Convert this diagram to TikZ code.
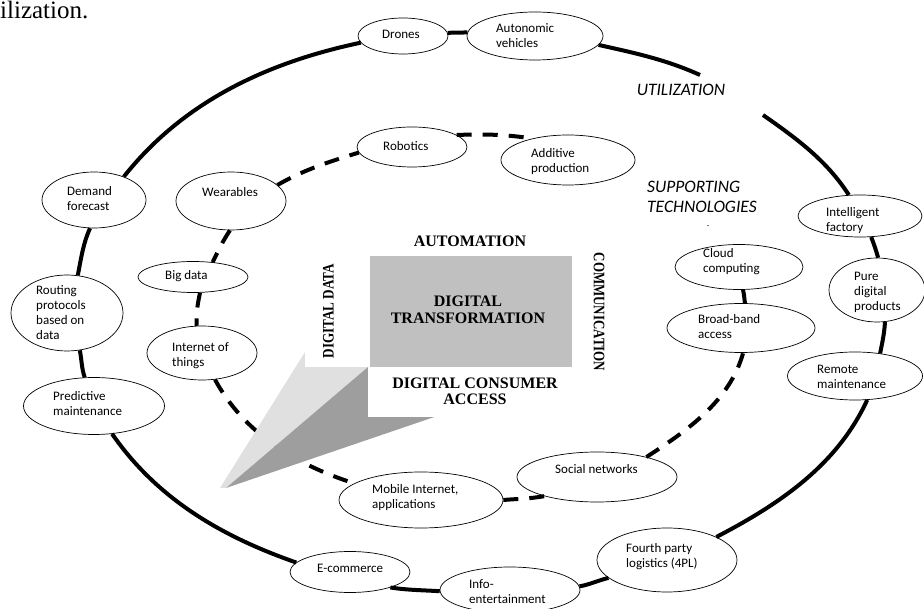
\documentclass[tikz,border=0pt]{standalone}
\usepackage{fontspec}
\setmainfont{Carlito}
\newfontfamily\tnr{Liberation Serif}
\usetikzlibrary{shapes.geometric}
\definecolor{boxgray}{HTML}{C0C0C0}
\definecolor{wedgelight}{HTML}{E0E0E0}
\definecolor{wedgedark}{HTML}{9E9E9E}
\begin{document}
\begin{tikzpicture}[x=1pt,y=1pt,
  ell/.style={draw, ellipse, line width=0.7pt, fill=white, inner sep=0pt},
  lbl/.style={anchor=west, align=left, inner sep=0pt, font=\fontsize{13}{15}\selectfont},
  ring/.style={line width=4pt, looseness=0.9},
  dring/.style={line width=4pt, dash pattern=on 15pt off 11pt, looseness=0.9},
  sb/.style={font=\tnr\bfseries\fontsize{16}{16.5}\selectfont, align=center, inner sep=0pt},
  it/.style={font=\itshape\fontsize{17.5}{20}\selectfont, inner sep=0pt}]
\useasboundingbox (0,0) rectangle (924,608);

% title fragment
\node[anchor=base west, inner sep=0pt, font=\tnr\fontsize{25}{28}\selectfont] (title) at (0,589.5) {ilization.};

% outer ellipses
\node[ell, minimum width=90pt, minimum height=36pt] (drones) at (403,572) {};
\node[ell, minimum width=136pt, minimum height=48pt] (auto) at (535,572) {};
\node[ell, minimum width=124pt, minimum height=42pt] (intel) at (860,392) {};
\node[ell, minimum width=96pt, minimum height=64pt] (pure) at (877,318) {};
\node[ell, minimum width=135pt, minimum height=48pt] (remote) at (855,232) {};
\node[ell, minimum width=140pt, minimum height=64pt] (fpl) at (667,48) {};
\node[ell, minimum width=140pt, minimum height=46pt] (info) at (510,18) {};
\node[ell, minimum width=120pt, minimum height=41pt] (ecom) at (350,36) {};
\node[ell, minimum width=141pt, minimum height=57pt] (pred) at (94,202) {};
\node[ell, minimum width=112pt, minimum height=76pt] (rout) at (67,295) {};
\node[ell, minimum width=104pt, minimum height=56pt] (demand) at (94,408) {};
% inner ellipses
\node[ell, minimum width=110pt, minimum height=40pt] (robot) at (412,461) {};
\node[ell, minimum width=134pt, minimum height=50pt] (addit) at (568,448) {};
\node[ell, minimum width=110pt, minimum height=58pt] (wear) at (231,407) {};
\node[ell, minimum width=110pt, minimum height=31pt] (bigd) at (193,331) {};
\node[ell, minimum width=110pt, minimum height=54pt] (iot) at (202,255) {};
\node[ell, minimum width=164pt, minimum height=56pt] (mobile) at (421,108) {};
\node[ell, minimum width=160pt, minimum height=50pt] (social) at (597,131) {};
\node[ell, minimum width=148pt, minimum height=49pt] (broad) at (741,280) {};
\node[ell, minimum width=128pt, minimum height=45pt] (cloud) at (739,341) {};

% labels
\node[lbl] (drones-t) at (382,574) {Drones};
\node[lbl] (auto-t) at (496,572) {Autonomic\\vehicles};
\node[lbl] (intel-t) at (826,387) {Intelligent\\factory};
\node[lbl] (pure-t) at (854,316) {Pure\\digital\\products};
\node[lbl] (remote-t) at (817,231) {Remote\\maintenance};
\node[lbl] (fpl-t) at (626,51) {Fourth party\\logistics (4PL)};
\node[lbl] (info-t) at (469,16) {Info-\\entertainment};
\node[lbl] (ecom-t) at (317,40) {E-commerce};
\node[lbl] (pred-t) at (53,204) {Predictive\\maintenance};
\node[lbl] (rout-t) at (36,295) {Routing\\protocols\\based on\\data};
\node[lbl] (demand-t) at (67,409) {Demand\\forecast};
\node[lbl] (robot-t) at (383,462) {Robotics};
\node[lbl] (addit-t) at (531,446) {Additive\\production};
\node[lbl] (wear-t) at (202,416) {Wearables};
\node[lbl] (bigd-t) at (165,332) {Big data};
\node[lbl] (iot-t) at (172,252) {Internet of\\things};
\node[lbl] (mobile-t) at (372,110) {Mobile Internet,\\applications};
\node[lbl] (social-t) at (555,139) {Social networks};
\node[lbl] (broad-t) at (698,281) {Broad-band\\access};
\node[lbl] (cloud-t) at (703,346) {Cloud\\computing};

% outer ring
\coordinate (u1) at (700,533);
\coordinate (u2) at (763,493);
\draw[ring] (demand.38) to[out=51.6,in=191.9] (drones.189);
\draw[ring] (drones.4) to[out=3,in=181] (auto.177);
\draw[ring] (auto.-8) to[out=-12.6,in=155.6] (u1);
\draw[ring] (u2) to[out=-35,in=122.7] (intel.118);
\draw[ring] (intel.-62) to[out=-68.4,in=106.1] (pure.88);
\draw[ring] (pure.-76) to[out=-92.6,in=78.8] (remote.42);
\draw[ring] (remote.-63) to[out=-114.7,in=27.5] (fpl.25);
\draw[ring] (fpl.197) to[out=193.7,in=10] (info.3);
\draw[ring] (info.181) to[out=176.3,in=-8.8] (ecom.-21);
\draw[ring] (ecom.170) to[out=160.8,in=-55.3] (pred.-57);
\draw[ring] (pred.108) to[out=109.2,in=-79.1] (rout.-71);
\draw[ring] (rout.74) to[out=78.9,in=245.7] (demand.262);

% inner dashed ring
\draw[dring] (robot.15) to[out=2.5,in=171.2] (addit.149);
\draw[dring] (wear.19) to[out=29.9,in=197.1] (robot.186);
\draw[dring] (wear.268) to[out=236,in=64.1] (bigd.37);
\draw[dring] (bigd.-66) to[out=258.3,in=94.2] (iot.101);
\draw[dring] (iot.-64) to[out=-61.5,in=162.4] (mobile.166);
\draw[dring] (mobile.0) to[out=4.8,in=190.2] (social.200);
\draw[dring] (social.22) to[out=33,in=254.3] (broad.-85);
\draw[dring] (broad.81) to[out=97.4,in=283] (cloud.-80);

% wedge and central boxes
\fill[wedgelight] (220,120) -- (340,312) -- (368,241) -- (226,120) -- cycle;
\fill[wedgedark] (226,120) -- (368,241) -- (490,210) -- cycle;
\fill[white] (305,241) rectangle (368,360);
\fill[white] (368,191) rectangle (590,241);
\node[fill=boxgray, minimum width=202pt, minimum height=111pt, inner sep=0pt] (core) at (471,296.5) {};

% central texts
\node[sb] (dt) at (468,298) {DIGITAL\\TRANSFORMATION};
\node[sb] (autom) at (470,367) {AUTOMATION};
\node[sb] (dca) at (475,216.5) {DIGITAL CONSUMER\\ACCESS};
\node[sb, rotate=90] (ddata) at (328.5,297) {\scalebox{0.82}[1]{DIGITAL DATA}};
\node[sb, rotate=-90] (comm) at (599,296) {\scalebox{0.81}[1]{COMMUNICATION}};

% ring titles
\node[it] (util) at (681,518) {UTILIZATION};
\node[it, anchor=west, align=left] (supp) at (647,411) {SUPPORTING\\TECHNOLOGIES};
\node[inner sep=0pt, font=\fontsize{8}{8}\selectfont] (tick) at (708,381) {-};
\end{tikzpicture}
\end{document}
